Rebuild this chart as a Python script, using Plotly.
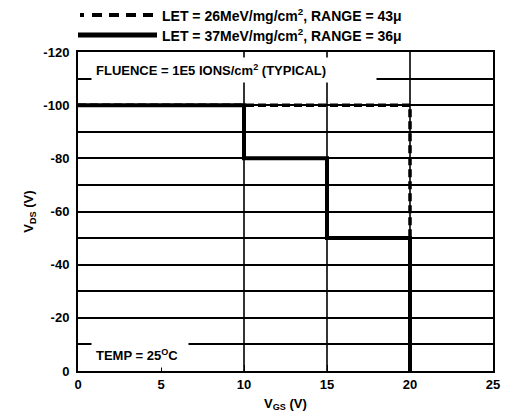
import plotly.graph_objects as go

# Data
let26_vgs = [0, 20, 20]
let26_vds = [-100, -100, 0]
let37_vgs = [0, 10, 10, 15, 15, 20, 20]
let37_vds = [-100, -100, -80, -80, -50, -50, 0]
legend_names = ["LET = 26MeV/mg/cm<sup>2</sup>, RANGE = 43\u03bc",
                "LET = 37MeV/mg/cm<sup>2</sup>, RANGE = 36\u03bc"]
x_ticks = [0, 5, 10, 15, 20, 25]
y_ticks = [0, -20, -40, -60, -80, -100, -120]
y_ticktext = ["0", "-20", "-40", "-60", "-80", "-100", "-120"]
x_grid = [10, 15, 20]

W, H = 505, 416
L, R, T, B = 78, 12, 52, 45
pw, ph = W - L - R, H - T - B

FONT = "Liberation Sans, Arial, sans-serif"

def px(xp):  # page pixel -> paper
    return (xp - L) / pw

def py(yp):
    return (H - B - yp) / ph

fig = go.Figure()
fig.add_trace(go.Scatter(x=let26_vgs, y=let26_vds, mode="lines", name=legend_names[0],
                         line=dict(color="black", width=3.5, dash="8px,4px"), showlegend=False))
fig.add_trace(go.Scatter(x=let37_vgs, y=let37_vds, mode="lines", name=legend_names[1],
                         line=dict(color="black", width=4), showlegend=False))

for xv in x_grid:
    fig.add_shape(type="line", x0=xv, x1=xv, y0=0, y1=-120, xref="x", yref="y",
                  line=dict(color="black", width=1.6), layer="below")

# legend samples
fig.add_shape(type="line", xref="paper", yref="paper", x0=px(80), x1=px(157), y0=py(15), y1=py(15),
              line=dict(color="black", width=4, dash="4px,8px,10px,7px,10px,7px,10px,7px,10px,7px"))
fig.add_shape(type="line", xref="paper", yref="paper", x0=px(78), x1=px(157), y0=py(35), y1=py(35),
              line=dict(color="black", width=5))
for i, yy in enumerate([15, 35]):
    fig.add_annotation(xref="paper", yref="paper", x=px(160), y=py(yy), xanchor="left", yanchor="middle",
                       text=legend_names[i], showarrow=False,
                       font=dict(family=FONT, size=14, color="black", weight="bold"))

fig.add_annotation(xref="paper", yref="paper", x=px(91), y=py(70), xanchor="left", yanchor="middle",
                   text="FLUENCE = 1E5 IONS/cm<sup>2</sup> (TYPICAL)\u2003\u2003\u2003\u2002", showarrow=False,
                   bgcolor="white", borderpad=4,
                   font=dict(family=FONT, size=13, color="black", weight="bold"))
fig.add_annotation(xref="paper", yref="paper", x=px(91), y=py(355), xanchor="left", yanchor="middle",
                   text="TEMP = 25<sup>O</sup>C\u2002", showarrow=False, bgcolor="white",
                   borderpad=4, font=dict(family=FONT, size=13, color="black", weight="bold"))

fig.update_layout(
    width=W, height=H, margin=dict(l=L, r=R, t=T, b=B, autoexpand=False),
    paper_bgcolor="white", plot_bgcolor="white", showlegend=False,
    font=dict(family=FONT, size=13, color="black", weight="bold"),
)
fig.update_xaxes(range=[0, 25], tickvals=x_ticks, ticktext=[str(v) for v in x_ticks], automargin=False,
                 showgrid=False, zeroline=False, showline=True, linecolor="black", linewidth=2,
                 mirror=True, ticks="inside", ticklen=6, tickcolor="black",
                 title=dict(text="V<sub>GS</sub> (V)", standoff=8,
                            font=dict(family=FONT, size=13, weight="bold")),
                 tickfont=dict(family=FONT, size=13, weight="bold"))
fig.update_yaxes(range=[0, -120], tickvals=y_ticks, ticktext=y_ticktext, automargin=False,
                 showgrid=True, gridcolor="black", gridwidth=1.6, zeroline=False,
                 showline=True, linecolor="black", linewidth=2, mirror=True, ticks="",
                 ticklabelstandoff=4,
                 minor=dict(dtick=10, showgrid=True, gridcolor="black", gridwidth=1.6),
                 title=dict(text="V<sub>DS</sub> (V)", standoff=7,
                            font=dict(family=FONT, size=13, weight="bold")),
                 tickfont=dict(family=FONT, size=13, weight="bold"))

fig.write_html("out.html", config={"displayModeBar": False},
               post_script="document.body.style.margin='0';document.body.style.overflow='hidden';")
